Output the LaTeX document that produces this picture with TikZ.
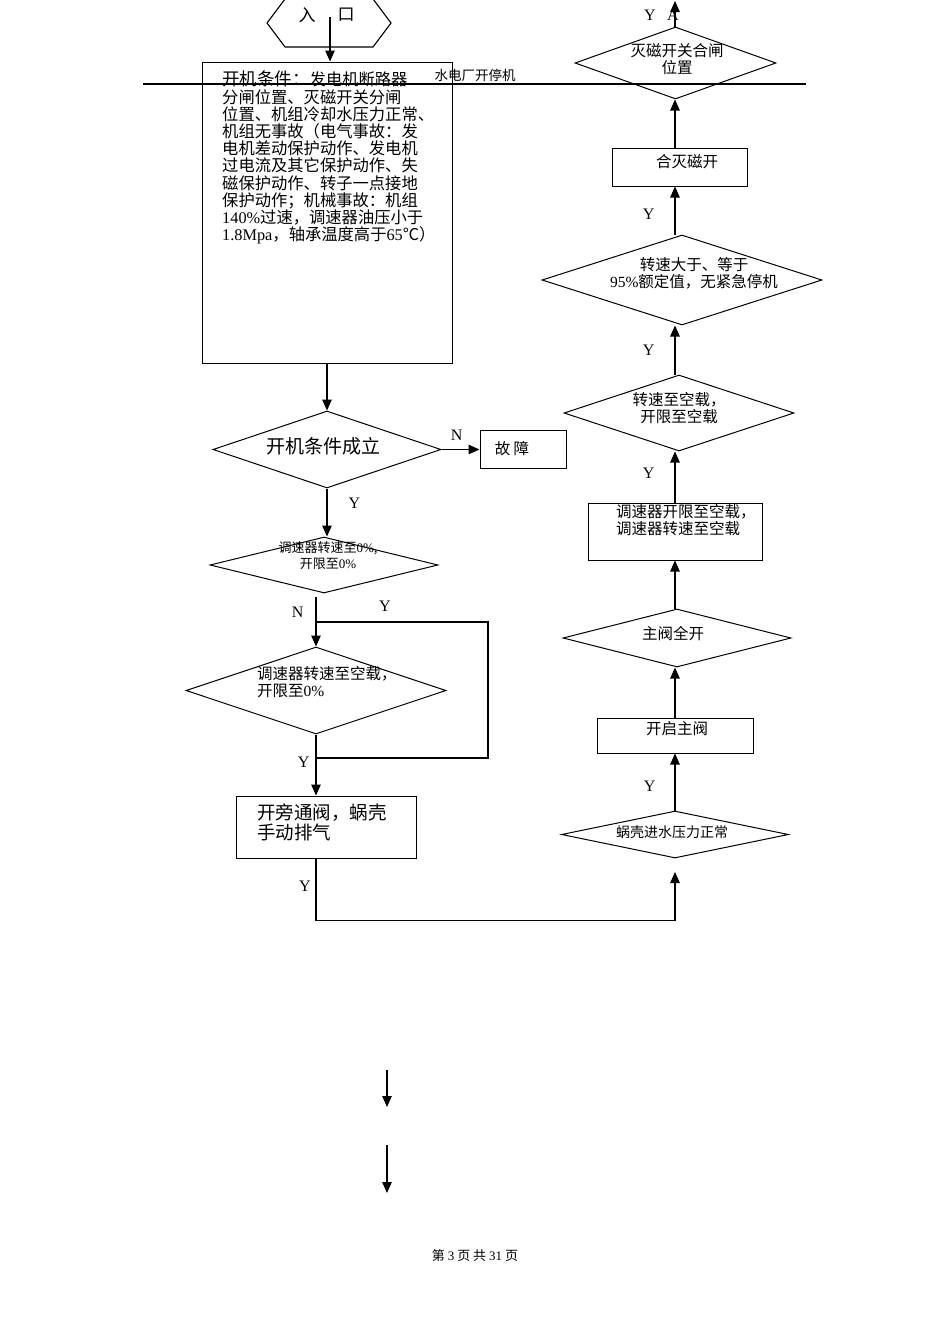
\documentclass[tikz,border=0pt]{standalone}
\usepackage{fontspec}
\setmainfont{Liberation Serif}
\newfontfamily\cjk{Noto Sans CJK SC}
\newcommand\latn[1]{{\rmfamily #1}}
\usepackage{tikz}
\usetikzlibrary{shapes.geometric, positioning, arrows.meta, calc}

\tikzset{
    dec/.style={diamond, draw, line width=1pt, inner sep=0pt},
    act/.style={rectangle, draw, line width=1pt, inner sep=0pt},
    arr/.style={-{Triangle[length=11pt,width=9.5pt]}, line width=1.1pt},
    ln/.style={line width=1.1pt},
    txt/.style={font={\cjk\fontsize{15.5pt}{17pt}\selectfont}, align=center, inner sep=0pt},
    txs/.style={font={\cjk\fontsize{13pt}{16pt}\selectfont}, align=center, inner sep=0pt},
    txl/.style={font={\cjk\fontsize{18.5pt}{20pt}\selectfont}, align=left, inner sep=0pt},
    lab/.style={font={\fontsize{16pt}{18pt}\selectfont}, inner sep=0pt},
}

\begin{document}
\begin{tikzpicture}[x=1pt, y=-1pt]
    \useasboundingbox (0,0) rectangle (950,1344);

    % page header
    \draw[ln] (143,84) -- (806,84);
    \node[txs, font={\cjk\fontsize{13.5pt}{16pt}\selectfont}] (title) at (475,75) {水电厂开停机};

    % left column
    \draw[ln] (267,23) -- (285,-1) -- (373,-1) -- (391,23) -- (373,47) -- (285,47) -- cycle;
    \node[txt, font={\cjk\fontsize{17pt}{19pt}\selectfont}] (in1) at (307,15) {入};
    \node[txt, font={\cjk\fontsize{17pt}{19pt}\selectfont}] (in2) at (346,15) {口};
    \coordinate (entry) at (330,17);

    \node[act, minimum width=250, minimum height=301] (cond) at (327,212.5) {};
    \node[txt, align=left, anchor=north west, font={\cjk\fontsize{16.3pt}{17.2pt}\selectfont}] (condt) at (222,71)
        {{\fontsize{17.5pt}{17.2pt}\selectfont 开机条件：}发电机断路器\\分闸位置、灭磁开关分闸\\位置、机组冷却水压力正常、\\机组无事故（电气事故：发\\电机差动保护动作、发电机\\过电流及其它保护动作、失\\磁保护动作、转子一点接地\\保护动作；机械事故：机组\\\latn{140\%}过速，调速器油压小于\\\latn{1.8Mpa}，轴承温度高于\latn{65}℃）};

    \node[dec, minimum width=228, minimum height=77] (ok) at (327,449.5) {};
    \node[txl, font={\cjk\fontsize{19pt}{21pt}\selectfont}] (okt) at (323,446) {开机条件成立};
    \node[act, minimum width=86, minimum height=38] (fault) at (523,449.5) {};
    \node[txt] (faultt) at (512,449) {故 障};

    \node[dec, minimum width=228, minimum height=56] (zero) at (324,565) {};
    \node[txs] (zerot) at (328,556) {调速器转速至\latn{0\%},\\开限至\latn{0\%}};

    \coordinate (nstart) at (316,597);
    \coordinate (jn) at (316,622);
    \coordinate (lpr) at (488,622);
    \coordinate (lpb) at (488,758);
    \coordinate (jy) at (316,758);

    \node[dec, minimum width=260, minimum height=87] (idle) at (316,690.5) {};
    \node[txt, align=left, anchor=west] (idlet) at (257,682) {调速器转速至空载，\\开限至\latn{0\%}};

    \node[act, minimum width=180, minimum height=62] (bypass) at (326,827) {};
    \node[txl, anchor=west] (bypasst) at (257,822) {开旁通阀，蜗壳\\手动排气};

    % right column
    \node[dec, minimum width=227, minimum height=47] (press) at (675,834.5) {};
    \node[txs, font={\cjk\fontsize{14pt}{16pt}\selectfont}] (presst) at (672,832) {蜗壳进水压力正常};
    \coordinate (pin) at (675,872);

    \node[act, minimum width=156, minimum height=35] (openv) at (675,735.5) {};
    \node[txt] (openvt) at (677,729) {开启主阀};

    \node[dec, minimum width=228, minimum height=58] (fullo) at (677,638) {};
    \node[txt] (fullot) at (673,634) {主阀全开};

    \node[act, minimum width=174, minimum height=57] (gov) at (675,531.5) {};
    \node[txt, align=left, anchor=west] (govt) at (616,520.5) {调速器开限至空载，\\调速器转速至空载};

    \node[dec, minimum width=230, minimum height=76] (spd) at (679,413) {};
    \node[txt] (spdt) at (679,408) {转速至空载，\\开限至空载};

    \node[dec, minimum width=280, minimum height=90] (rated) at (682,280) {};
    \node[txt] (ratedt) at (694,273) {转速大于、等于\\\latn{95\%}额定值，无紧急停机};

    \node[act, minimum width=135, minimum height=38] (fcb) at (679.5,167) {};
    \node[txt] (fcbt) at (687,162) {合灭磁开};

    \node[dec, minimum width=201, minimum height=72] (fcbpos) at (675.5,63) {};
    \node[txt] (fcbpost) at (677,59) {灭磁开关合闸\\位置};
    \coordinate (toA) at (675,1);
    \node[lab] (ya) at (650,15) {Y};
    \node[lab] (aa) at (673,15) {A};

    % loose arrows at the foot of the page
    \coordinate (a1) at (387,1070);
    \coordinate (a2) at (387,1107);
    \coordinate (b1) at (387,1145);
    \coordinate (b2) at (387,1193);
    \node[txs] (foot) at (475,1256) {第 \latn{3} 页 共 \latn{31} 页};

    \draw[ln] (jn) -- (lpr) -- (lpb) -- (jy);
    \node[lab] (yloop) at (385,606) {Y};

    \draw
        (entry) edge[arr] (cond.north -| entry)
        (cond.south) edge[arr] (ok.north)
        (ok.east) edge[arr] node[lab, pos=.4, above=8pt]{N} (fault.west)
        (ok.south) edge[arr] node[lab, pos=.3, right=21pt]{Y} (ok.south |- zero.north)
        (nstart) edge[arr] node[lab, pos=.3, left=12pt]{N} (idle.north)
        (idle.south) edge[arr] node[lab, pos=.45, left=6pt]{Y} (idle.south |- bypass.north)
        (press.north) edge[arr] node[lab, pos=.43, left=19pt]{Y} (openv.south)
        (openv.north) edge[arr] (openv.north |- fullo.south)
        (openv.north |- fullo.north) edge[arr] (gov.south)
        (gov.north) edge[arr] node[lab, pos=.58, left=20pt]{Y} (gov.north |- spd.south)
        (gov.north |- spd.north) edge[arr] node[lab, pos=.5, left=20pt]{Y} (gov.north |- rated.south)
        (gov.north |- rated.north) edge[arr] node[lab, pos=.43, left=20pt]{Y} (gov.north |- fcb.south)
        (gov.north |- fcb.north) edge[arr] (gov.north |- fcbpos.south)
        (gov.north |- fcbpos.north) edge[arr] (toA)
        (a1) edge[arr] (a2)
        (b1) edge[arr] (b2)
        ;
    \draw[arr] (idle.south |- bypass.south) -- ++(0,62) -| (pin);
    \node[lab] (ybot) at (305,886) {Y};
\end{tikzpicture}
\end{document}
